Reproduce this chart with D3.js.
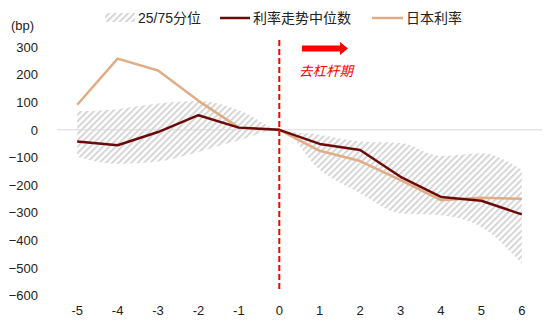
<!DOCTYPE html>
<html><head><meta charset="utf-8">
<script src="https://cdn.jsdelivr.net/npm/d3@7"></script>
<style>
body{margin:0;background:#fff;}
svg{display:block;font-family:"Liberation Sans",Arial,"Noto Sans CJK SC",sans-serif;}
</style></head>
<body>
<svg id="c" width="550" height="333"></svg>
<script>
const periods = [-5,-4,-3,-2,-1,0,1,2,3,4,5,6];
const median = [-42,-56,-8,53,8,0,-51,-73,-170,-243,-257,-306];
const japan = [91,258,215,105,8,0,-76,-113,-182,-255,-246,-250];
const p75 = [67,75,95,104,71,0,-18,-42,-48,-95,-85,-145];
const p25 = [-98,-123,-115,-80,-38,0,-145,-230,-303,-309,-352,-485];
const yTicks = [300,200,100,0,-100,-200,-300,-400,-500,-600];
const legendLabels = ["25/75分位","利率走势中位数","日本利率"];
const annotation = "去杠杆期";
const unitLabel = "(bp)";

const svg = d3.select("#c");
const x = d3.scaleBand().domain(periods).range([57,542]);
const xc = d => x(d) + x.bandwidth()/2;
const y = d3.scaleLinear().domain([-600,300]).range([295.5,47]);

const defs = svg.append("defs");
const pat = defs.append("pattern").attr("id","hatch").attr("patternUnits","userSpaceOnUse")
  .attr("width",4.5).attr("height",4.5).attr("patternTransform","rotate(45)");
pat.append("rect").attr("x",0).attr("y",0).attr("width",2).attr("height",4.5).attr("fill","#d6d6d6");

// band
const band = periods.map((p,i)=>({p, hi:p75[i], lo:p25[i]}));
svg.append("path").datum(band)
  .attr("d", d3.area().x(d=>xc(d.p)).y0(d=>y(d.lo)).y1(d=>y(d.hi)).curve(d3.curveMonotoneX))
  .attr("fill","url(#hatch)");

// zero line
svg.append("line").attr("x1",57).attr("x2",542).attr("y1",y(0)).attr("y2",y(0))
  .attr("stroke","#d9d9d9").attr("stroke-width",1);

// y axis
const ya = svg.append("g").attr("transform","translate(38,0)")
  .call(d3.axisLeft(y).tickValues(yTicks).tickSize(0).tickPadding(0).tickFormat(d3.format("d")));
ya.select(".domain").remove();
ya.selectAll("text").attr("font-size",13).attr("fill","#222").attr("font-family","Liberation Sans,Arial,sans-serif");

// x axis
const xa = svg.append("g").attr("transform","translate(0,304)")
  .call(d3.axisBottom(x).tickSize(0).tickPadding(2));
xa.select(".domain").remove();
xa.selectAll("text").attr("font-size",13).attr("fill","#222").attr("font-family","Liberation Sans,Arial,sans-serif");

// lines
const line = d3.line().x((d,i)=>xc(periods[i])).y(d=>y(d));
svg.append("path").datum(japan).attr("d",line).attr("fill","none")
  .attr("stroke","#E0AD86").attr("stroke-width",2.5).attr("stroke-linejoin","round");
svg.append("path").datum(median).attr("d",line).attr("fill","none")
  .attr("stroke","#6B0A0A").attr("stroke-width",2.5).attr("stroke-linejoin","round");

// red dashed vertical
svg.append("line").attr("x1",xc(0)).attr("x2",xc(0)).attr("y1",40).attr("y2",292)
  .attr("stroke","#FF0000").attr("stroke-width",2).attr("stroke-dasharray","6,3");

// arrow
svg.append("path").attr("d","M302,45.5 L340,45.5 L340,42 L348,48.5 L340,55 L340,51.5 L302,51.5 Z")
  .attr("fill","#FF0000");
svg.append("text").attr("x",299).attr("y",76).text(annotation)
  .attr("font-family","Noto Sans CJK SC").attr("font-style","italic").attr("font-size",13.5)
  .attr("fill","#FF0000");

// unit label
svg.append("text").attr("x",11).attr("y",30).text(unitLabel).attr("font-size",13).attr("fill","#222");

// legend
const lg = svg.append("g");
lg.append("rect").attr("x",105).attr("y",13).attr("width",30).attr("height",9).attr("fill","url(#hatch)");
lg.append("text").attr("x",138).attr("y",23).text(legendLabels[0]);
lg.append("line").attr("x1",220).attr("x2",250).attr("y1",18).attr("y2",18).attr("stroke","#6B0A0A").attr("stroke-width",2.5);
lg.append("text").attr("x",253).attr("y",23).text(legendLabels[1]);
lg.append("line").attr("x1",372).attr("x2",403).attr("y1",18).attr("y2",18).attr("stroke","#E0AD86").attr("stroke-width",2.5);
lg.append("text").attr("x",406).attr("y",23).text(legendLabels[2]);
lg.selectAll("text").attr("font-size",14).attr("fill","#222").attr("font-family","Liberation Sans,Arial,Noto Sans CJK SC,sans-serif");
</script>
</body></html>
